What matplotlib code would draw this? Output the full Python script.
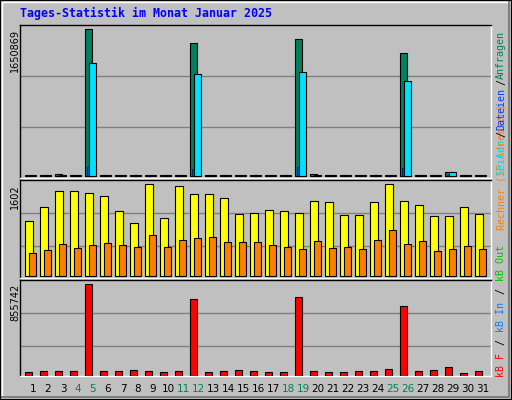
import matplotlib
matplotlib.use("Agg")
import matplotlib.pyplot as plt
import numpy as np

days = list(range(1, 32))
weekend = [4, 5, 11, 12, 18, 19, 25, 26]
title = "Tages-Statistik im Monat Januar 2025"

hits = [8000, 8000, 20000, 15000, 1650869, 8000, 8000, 15000, 8000, 15000, 8000, 1500000, 15000, 8000, 8000,
        8000, 8000, 8000, 1540000, 20000, 8000, 8000, 8000, 15000, 15000, 1380000, 8000, 8000, 45000, 8000, 15000]
files = [6000, 6000, 10000, 12000, 1270000, 6000, 6000, 12000, 6000, 12000, 6000, 1145000, 12000, 6000, 6000,
         6000, 6000, 6000, 1170000, 8000, 6000, 6000, 6000, 12000, 12000, 1070000, 6000, 6000, 45000, 6000, 12000]
pages = [2000, 2000, 4000, 4000, 100000, 2000, 2000, 4000, 2000, 4000, 2000, 79000, 4000, 2000, 2000,
         2000, 2000, 2000, 100000, 4000, 2000, 2000, 2000, 4000, 4000, 90000, 2000, 2000, 15000, 2000, 4000]
visits = [958, 1201, 1480, 1480, 1445, 1393, 1132, 923, 1602, 1010, 1567, 1428, 1428, 1358, 1080,
          1097, 1149, 1132, 1097, 1306, 1288, 1062, 1062, 1288, 1602, 1306, 1236, 1045, 1045, 1201, 1080]
sites = [400, 453, 557, 488, 540, 575, 540, 505, 714, 505, 627, 662, 679, 592, 592,
         592, 540, 505, 470, 609, 488, 505, 470, 627, 801, 557, 609, 435, 470, 522, 470]
kbytes = [31000, 41000, 41000, 41000, 855742, 41000, 41000, 50000, 41000, 31000, 41000, 715000, 31000, 41000, 50000,
          41000, 31000, 31000, 734000, 41000, 31000, 31000, 41000, 41000, 59000, 650000, 41000, 50000, 78000, 22000, 41000]

W, H = 512, 400
fig = plt.figure(figsize=(5.12, 4.0), dpi=100)
fig.patch.set_facecolor("#c0c0c0")
# outer border
fig.add_artist(plt.Rectangle((0, 0), 1, 1, transform=fig.transFigure, fill=False, ec="black", lw=1.5))
fig.add_artist(plt.Line2D([2/W, 2/W, 1-3/W], [3/H, 1-2/H, 1-2/H], transform=fig.transFigure, color="white", lw=1))
fig.add_artist(plt.Line2D([2/W, 1-3/W, 1-3/W], [3/H, 3/H, 1-2/H], transform=fig.transFigure, color="#808080", lw=1.5))

x = np.array(days)

def panel(y0, y1):
    ax = fig.add_axes([20/W, 1 - y1/H, 471/W, (y1 - y0)/H])
    ax.set_facecolor("#c0c0c0")
    ax.set_xlim(1 - 13/15, 1 + 458/15)
    ax.set_xticks([]); ax.set_yticks([])
    ax.spines["top"].set_color("black"); ax.spines["left"].set_color("black")
    ax.spines["right"].set_color("white"); ax.spines["bottom"].set_color("white")
    for s in ax.spines.values():
        s.set_linewidth(1)
    return ax

def gridlines(ax, vals):
    for v in vals:
        ax.axhline(v, color="#808080", lw=1, zorder=0)

kw = dict(edgecolor="black", linewidth=0.8, zorder=3)

# top
ax1 = panel(25, 178)
pp = 1650869 / (176 - 29.3)
ax1.set_ylim(-2 * pp, 1650869 + 4.3 * pp)
gridlines(ax1, [100 * pp, 49 * pp])
ax1.bar(x - 0.3, hits, width=0.47, color="#00805c", **kw)
ax1.bar(x - 0.03, files, width=0.47, color="#00e0ff", **kw)
ax1.bar(x - 0.33, pages, width=0.13, color="#0040ff", edgecolor="black", linewidth=0.4, zorder=4)

# middle
ax2 = panel(180, 278)
pp2 = 1602 / 92.0
ax2.set_ylim(-1.7 * pp2, 1602 + 4.3 * pp2)
gridlines(ax2, [63.3 * pp2, 30.3 * pp2])
ax2.bar(x - 0.27, visits, width=0.53, color="#ffff00", **kw)
ax2.bar(x - 0.03, sites, width=0.47, color="#ff8000", **kw)

# bottom
ax3 = panel(280, 376)
pp3 = 855742 / 91.4
ax3.set_ylim(-0.3 * pp3, 855742 + 4.3 * pp3)
gridlines(ax3, [62.4 * pp3, 29.4 * pp3])
ax3.bar(x - 0.3, kbytes, width=0.47, color="#ff0000", **kw)

for d in days:
    fig.text((33 + (d - 1) * 15) / W, 1 - 389/H, str(d), ha="center", va="center", fontsize=7.5,
             color="#00805c" if d in weekend else "black")

fig.text(20/W, 1 - 13/H, title, ha="left", va="center", fontsize=8.4, color="#0000ff",
         fontweight="bold", family="DejaVu Sans Mono")

for ytop, lab in [(29, str(max(hits))), (184, str(max(visits))), (284, str(max(kbytes)))]:
    fig.text(15/W, 1 - ytop/H, lab, rotation=90, ha="center", va="top", fontsize=7, color="black")

cw = 6.4
def vstack(ystart, tokens):
    y = ystart
    for t, c in tokens:
        fig.text(501/W, 1 - y/H, t, rotation=90, ha="center", va="bottom", fontsize=7.2,
                 color=c, family="DejaVu Sans Mono")
        y -= len(t) * cw

vstack(377, [("kB F", "#ff0000"), (" / ", "black"), ("kB In", "#0080ff"), (" / ", "black"), ("kB Out", "#00c000")])
vstack(230, [("Rechner (IP-Adressen)", "#ff8000")])
vstack(175, [("Seiten", "#00e0ff"), ("/", "black"), ("Dateien", "#0040ff"), ("/", "black"), ("Anfragen", "#00805c")])

fig.savefig("out.png", dpi=100, facecolor=fig.get_facecolor())
